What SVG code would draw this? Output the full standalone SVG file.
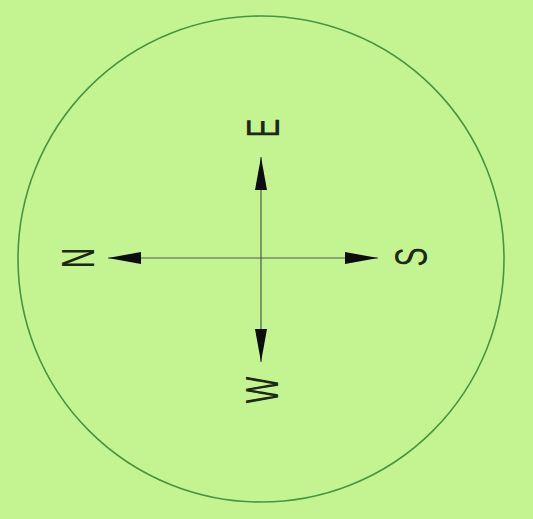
<svg xmlns="http://www.w3.org/2000/svg" width="533" height="519" viewBox="0 0 533 519">
<style>
.lbl{font-family:"Liberation Sans",Arial,sans-serif;font-size:46px;fill:#1c2a14;text-anchor:middle}
.ax{stroke:#4d5a45;stroke-width:1.2;fill:none}
</style>
<defs>
<marker id="ah" markerUnits="userSpaceOnUse" markerWidth="34" markerHeight="14" refX="33" refY="6.5" orient="auto">
<polygon points="0,0.5 33,6.5 0,12.5" fill="#0d0d0d"/>
</marker>
</defs>
<rect x="0" y="0" width="533" height="519" fill="#c4f491"/>
<g id="boundary"><circle cx="261" cy="259" r="243" fill="none" stroke="#4a9440" stroke-width="1.6"/></g>
<g id="connectors">
<line class="ax" x1="261" y1="258" x2="261" y2="157" marker-end="url(#ah)"/>
<line class="ax" x1="261" y1="258" x2="261" y2="362" marker-end="url(#ah)"/>
<line class="ax" x1="261" y1="258" x2="108" y2="258" marker-end="url(#ah)"/>
<line class="ax" x1="261" y1="258" x2="378" y2="258" marker-end="url(#ah)"/>
</g>
<g id="east"><text class="lbl" transform="translate(262,128) rotate(-90) scale(0.62,1)" y="16.5">E</text></g>
<g id="north"><text class="lbl" transform="translate(77,258) rotate(-90) scale(0.62,1)" y="16.5">N</text></g>
<g id="south"><text class="lbl" transform="translate(410,257) rotate(-90) scale(0.62,1)" y="16.5">S</text></g>
<g id="west"><text class="lbl" transform="translate(261,390) rotate(-90) scale(0.62,1)" y="16.5">W</text></g>
</svg>
